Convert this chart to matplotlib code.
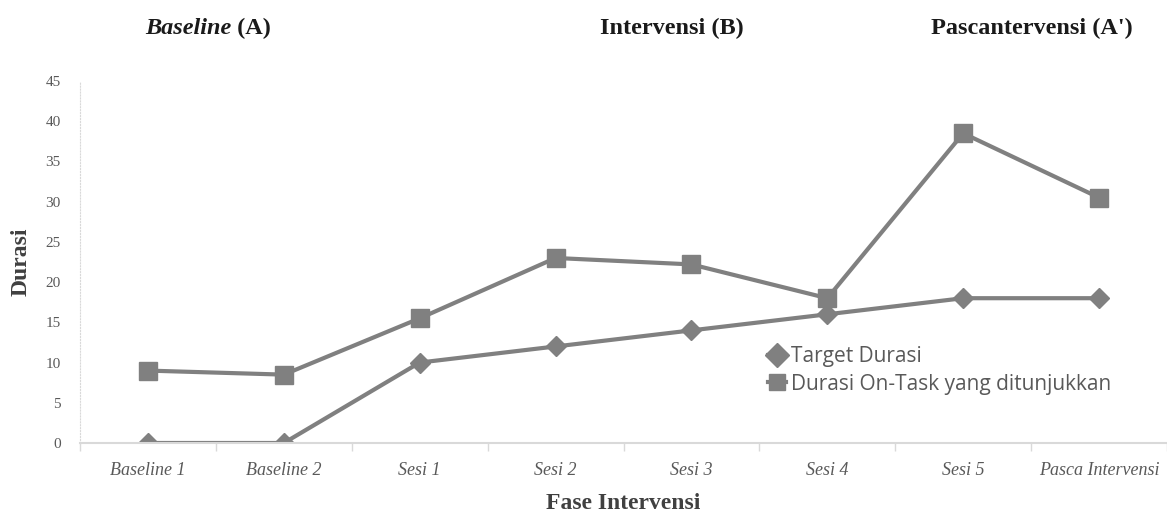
import numpy as np
import matplotlib.pyplot as plt

# session labels and measured durations
sessions = ['Baseline 1', 'Baseline 2', 'Sesi 1', 'Sesi 2', 'Sesi 3', 'Sesi 4', 'Sesi 5', 'Pasca Intervensi']
target_durasi = [0, 0, 10, 12, 14, 16, 18, 18]
durasi_on_task = [9, 8.5, 15.5, 23, 22.2, 18, 38.5, 30.5]
phase_titles = ['Baseline (A)', 'Intervensi (B)', "Pascantervensi (A')"]

GREY = '#808080'
AXIS_GREY = '#d9d9d9'
TEXT_GREY = '#595959'

fig = plt.figure(figsize=(11.67, 5.18), dpi=100)
ax = fig.add_axes([0.0686, 0.1448, 0.9314, 0.6988])

x = np.arange(len(sessions))
ax.plot(x, target_durasi, color=GREY, lw=3, marker='D', ms=10,
        label='Target Durasi')
ax.plot(x, durasi_on_task, color=GREY, lw=3, marker='s', ms=13,
        label='Durasi On-Task yang ditunjukkan')

ax.set_xlim(-0.5, len(sessions) - 0.5)
ax.set_ylim(0, 45)
ax.set_yticks(np.arange(0, 46, 5))
ax.tick_params(axis='y', length=0, labelsize=11, labelcolor=TEXT_GREY, pad=14)
for lab in ax.get_yticklabels():
    lab.set_family('Liberation Serif')

# category labels centred, ticks on the boundaries
ax.set_xticks(x)
ax.set_xticklabels(sessions, family='Liberation Serif', style='italic',
                   fontsize=13, color=TEXT_GREY)
ax.tick_params(axis='x', length=0, pad=14)
ax.set_xticks(np.arange(-0.5, len(sessions), 1), minor=True)
ax.tick_params(axis='x', which='minor', length=6, color=AXIS_GREY, width=1)

for side in ['top', 'right']:
    ax.spines[side].set_visible(False)
ax.spines['left'].set_color(AXIS_GREY)
ax.spines['left'].set_linestyle(':')
ax.spines['bottom'].set_color(AXIS_GREY)
ax.spines['bottom'].set_linewidth(1.5)

ax.set_ylabel('Durasi', family='Liberation Serif', fontweight='bold',
              fontsize=17, color='#404040', labelpad=10)
ax.set_xlabel('Fase Intervensi', family='Liberation Serif', fontweight='bold',
              fontsize=17, color='#404040', labelpad=10)

# phase headings above the plot
heading_x = [216, 672, 1032]
heading_y = 1 - 28 / 518
fig.text(heading_x[0] / 1167 + 0.013, heading_y, 'Baseline', style='italic',
         family='Liberation Serif', fontweight='bold', fontsize=17.5,
         ha='right', va='center', color='#1a1a1a')
fig.text(heading_x[0] / 1167 + 0.013, heading_y, ' (A)',
         family='Liberation Serif', fontweight='bold', fontsize=17.5,
         ha='left', va='center', color='#1a1a1a')
for hx, title in zip(heading_x[1:], phase_titles[1:]):
    fig.text(hx / 1167, heading_y, title, family='Liberation Serif',
             fontweight='bold', fontsize=17.5, ha='center', va='center',
             color='#1a1a1a')

leg = ax.legend(loc='upper left', bbox_to_anchor=(0.625, 0.29), frameon=False,
                prop={'family': 'Open Sans', 'size': 15}, handlelength=0.9,
                handletextpad=0.2, labelspacing=0.3, borderaxespad=0)
for t in leg.get_texts():
    t.set_color(TEXT_GREY)
for h in leg.legend_handles:
    h.set_markersize(12)

fig.savefig('out.png', dpi=100)
